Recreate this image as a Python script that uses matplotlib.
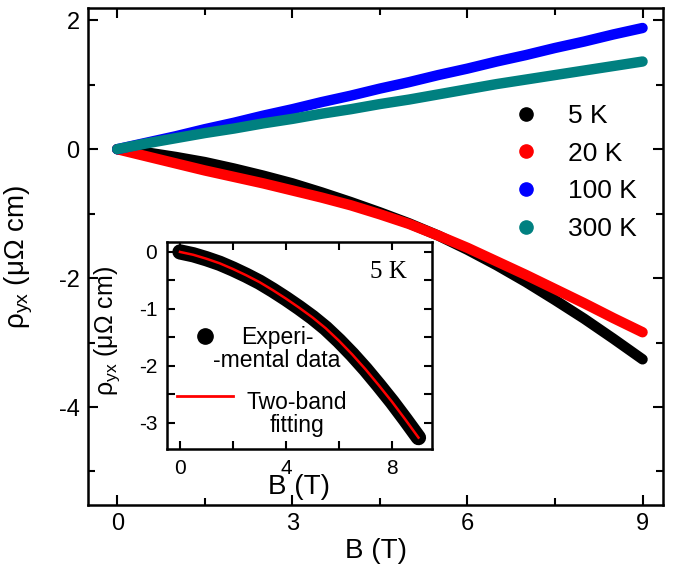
import matplotlib
matplotlib.use("Agg")
import matplotlib.pyplot as plt
from matplotlib.lines import Line2D
from matplotlib.ticker import MultipleLocator

plt.rcParams['font.family'] = ['Liberation Sans', 'DejaVu Sans']
plt.rcParams['mathtext.default'] = 'regular'
plt.rcParams['axes.unicode_minus'] = False

# campo magnetico (T)
B = [0, 0.5, 1, 1.5, 2, 2.5, 3, 3.5, 4, 4.5, 5, 5.5, 6, 6.5, 7, 7.5, 8, 8.5, 9]
# rho_yx (uOhm cm) para cada temperatura
rho_5K = [0, -0.05, -0.12, -0.20, -0.30, -0.41, -0.53, -0.67, -0.82, -0.98, -1.15,
          -1.34, -1.56, -1.80, -2.06, -2.34, -2.63, -2.94, -3.26]
rho_20K = [0, -0.11, -0.22, -0.33, -0.43, -0.53, -0.64, -0.75, -0.87, -1.01, -1.16,
           -1.34, -1.53, -1.74, -1.95, -2.17, -2.39, -2.62, -2.84]
rho_100K = [0, 0.10, 0.20, 0.31, 0.41, 0.52, 0.62, 0.73, 0.83, 0.94, 1.04,
            1.15, 1.25, 1.36, 1.46, 1.57, 1.67, 1.78, 1.88]
rho_300K = [0, 0.09, 0.17, 0.25, 0.32, 0.40, 0.47, 0.55, 0.62, 0.70, 0.77,
            0.85, 0.93, 1.01, 1.08, 1.15, 1.22, 1.29, 1.36]
etiquetas = ["5 K", "20 K", "100 K", "300 K"]
colores = ["black", "red", "blue", "#008080"]

# ajuste de dos bandas a 5 K (inset)
B_fit = B
rho_fit = [0, -0.05, -0.12, -0.20, -0.30, -0.41, -0.53, -0.67, -0.82, -0.98, -1.15,
           -1.34, -1.56, -1.80, -2.06, -2.34, -2.63, -2.94, -3.26]

fig = plt.figure(figsize=(6.75, 5.72), dpi=100)
ax = fig.add_axes([0.1304, 0.1171, 0.8518, 0.8689])

for y, c in zip([rho_5K, rho_20K, rho_100K, rho_300K], colores):
    ax.plot(B, y, color=c, lw=7.5, solid_capstyle="round", solid_joinstyle="round")

ax.set_xlim(-0.5, 9.35)
ax.set_ylim(-5.52, 2.19)
ax.xaxis.set_major_locator(MultipleLocator(3))
ax.xaxis.set_minor_locator(MultipleLocator(1.5))
ax.yaxis.set_major_locator(MultipleLocator(2))
ax.yaxis.set_minor_locator(MultipleLocator(1))
ax.tick_params(which="both", direction="in", top=True, right=True, width=1.5, labelsize=17, pad=6)
ax.tick_params(which="major", length=7)
ax.tick_params(which="minor", length=5)
for s in ax.spines.values():
    s.set_linewidth(1.8)
ax.set_xlabel("B (T)", fontsize=20, labelpad=2)
ax.set_ylabel("ρ$_{yx}$ (μΩ cm)", fontsize=20)
ax.yaxis.set_label_coords(-0.092, 0.5)

# leyenda principal solo con puntos
handles = [Line2D([], [], marker="o", ls="none", color=c, markersize=9.5) for c in colores]
ax.legend(handles, etiquetas, loc="upper left", bbox_to_anchor=(0.721, 0.86),
          bbox_transform=fig.transFigure, frameon=False, fontsize=19,
          handletextpad=1.0, labelspacing=0.52, handlelength=1.2)

# inset
ax2 = fig.add_axes([0.2474, 0.215, 0.3926, 0.362])
ax2.plot(B, rho_5K, color="black", lw=11, solid_capstyle="round", solid_joinstyle="round")
ax2.plot(B_fit, rho_fit, color="red", lw=1.8)
ax2.set_xlim(-0.49, 9.51)
ax2.set_ylim(-3.46, 0.175)
ax2.xaxis.set_major_locator(MultipleLocator(4))
ax2.xaxis.set_minor_locator(MultipleLocator(2))
ax2.yaxis.set_major_locator(MultipleLocator(1))
ax2.yaxis.set_minor_locator(MultipleLocator(0.5))
ax2.tick_params(which="both", direction="in", top=True, right=True, width=1.5, labelsize=15, pad=7)
ax2.tick_params(which="both", length=6)
for s in ax2.spines.values():
    s.set_linewidth(1.8)
ax2.set_xlabel("B (T)", fontsize=20)
ax2.xaxis.set_label_coords(0.5, -0.12)
ax2.set_ylabel("ρ$_{yx}$ (μΩ cm)", fontsize=18)
ax2.yaxis.set_label_coords(-0.17, 0.57)
ax2.text(0.906, 0.857, "5 K", transform=ax2.transAxes, ha="right", va="center",
         fontsize=18, family="Liberation Serif")

# leyenda del inset: simbolos con legend, textos centrados a mano
h2 = [Line2D([], [], marker="o", ls="none", color="black", markersize=11),
      Line2D([], [], color="red", lw=2)]
ax2.legend(h2, ["", ""], loc="upper left", bbox_to_anchor=(-0.02, 0.66),
           frameon=False, fontsize=16, handlelength=2.5, handletextpad=0.0,
           labelspacing=1.75, borderpad=0.2)
ax2.text(0.415, 0.483, "Experi-\n-mental data", transform=ax2.transAxes, ha="center",
         va="center", multialignment="center", fontsize=16.5, linespacing=1.0)
ax2.text(0.49, 0.168, "Two-band\nfitting", transform=ax2.transAxes, ha="center",
         va="center", multialignment="center", fontsize=16.5, linespacing=1.0)

fig.savefig("out.png", dpi=100)
